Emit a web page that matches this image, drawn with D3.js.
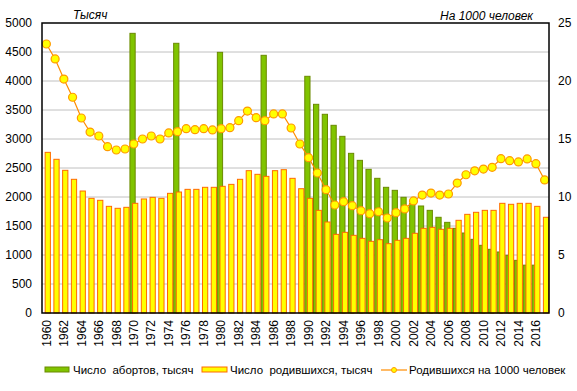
<!DOCTYPE html>
<html><head><meta charset="utf-8">
<script src="https://cdn.jsdelivr.net/npm/d3@7"></script>
<style>
body{margin:0;background:#fff;}
svg{display:block;font-family:Arial,"Liberation Sans",sans-serif;}
</style></head>
<body><svg id="c" width="577" height="391"></svg>
<script>
const years = d3.range(1960, 2018);
const births = [2770,2650,2460,2305,2103,1977,1943,1839,1805,1822,
  1891,1966,1994,1977,2063,2086,2132,2132,2167,2167,
  2184,2218,2305,2454,2391,2356,2454,2471,2322,2143,
  1977,1770,1569,1356,1391,1339,1287,1236,1264,1195,
  1253,1287,1374,1460,1477,1443,1460,1598,1701,1736,
  1770,1770,1891,1874,1891,1891,1839,1650];
const abortYears = [1970,1975,1980,1985,1990,1991,1992,1993,1994,1995,1996,1997,1998,1999,
  2000,2001,2002,2003,2004,2005,2006,2007,2008,2009,2010,2011,2012,2013,2014,2015,2016];
const abortions = [4822,4650,4494,4443,4081,3598,3426,3236,3046,2753,2632,2477,2322,2167,
  2115,1995,1891,1845,1770,1650,1563,1460,1379,1270,1167,1098,1052,995,908,825,825];
const rate = [23.19,21.9,20.17,18.6,16.81,15.6,15.26,14.34,14.05,14.14,
  14.57,15.0,15.26,15.0,15.52,15.63,15.89,15.8,15.89,15.78,
  15.89,15.98,16.58,17.41,16.84,16.58,17.16,17.16,15.95,14.57,
  13.39,12.07,10.63,9.31,9.6,9.25,8.82,8.56,8.73,8.19,
  8.65,8.97,9.66,10.17,10.34,10.17,10.26,11.2,11.92,12.26,
  12.41,12.56,13.3,13.13,13.02,13.28,12.87,11.47];
const leftTicks = d3.range(0, 5001, 500);
const rightTicks = [0,5,10,15,20,25];
const yearLabels = years.filter(y => (y - 1960) % 2 === 0);

const L = 42, R = 549, T = 23, B = 313;
const FONT = "Arial,'Liberation Sans',sans-serif";
const svg = d3.select("#c");
const x = d3.scaleBand().domain(years).range([L, R]).padding(0);
const bw = x.bandwidth();
const yL = d3.scaleLinear().domain([0, 5000]).range([B, T]);
const yR = d3.scaleLinear().domain([0, 25]).range([B, T]);

// gridlines
svg.append("g").selectAll("line").data(leftTicks.filter(v => v > 0 && v < 5000)).join("line")
  .attr("x1", L).attr("x2", R).attr("y1", d => yL(d)).attr("y2", d => yL(d))
  .attr("stroke", "#c0c0c0").attr("stroke-width", 1);

// abortion bars
const bwid = bw * 0.6;
svg.append("g").selectAll("rect").data(abortYears.map((y, i) => ({y, v: abortions[i]}))).join("rect")
  .attr("x", d => x(d.y) + bw * 0.06).attr("width", bwid)
  .attr("y", d => yL(d.v)).attr("height", d => B - yL(d.v))
  .attr("fill", "#80c400").attr("stroke", "#6b8a00").attr("stroke-width", 1);

// birth bars
svg.append("g").selectAll("rect").data(years.map((y, i) => ({y, v: births[i]}))).join("rect")
  .attr("x", d => x(d.y) + bw * 0.36).attr("width", bwid)
  .attr("y", d => yL(d.v)).attr("height", d => B - yL(d.v))
  .attr("fill", "#ffff00").attr("stroke", "#ff6a00").attr("stroke-width", 1);

// line
const pts = years.map((y, i) => ({y, v: rate[i]}));
svg.append("path").datum(pts)
  .attr("d", d3.line().x(d => x(d.y) + bw / 2).y(d => yR(d.v)))
  .attr("fill", "none").attr("stroke", "#ff8c00").attr("stroke-width", 1.2);
svg.append("g").selectAll("circle").data(pts).join("circle")
  .attr("cx", d => x(d.y) + bw / 2).attr("cy", d => yR(d.v)).attr("r", 4)
  .attr("fill", "#ffff00").attr("stroke", "#ff9900").attr("stroke-width", 1.2);

// frame
svg.append("rect").attr("x", L).attr("y", T).attr("width", R - L).attr("height", B - T)
  .attr("fill", "none").attr("stroke", "#000").attr("stroke-width", 1.5);

// left axis
const axL = svg.append("g").attr("transform", `translate(${L},0)`)
  .call(d3.axisLeft(yL).tickValues(leftTicks).tickFormat(d3.format("d")).tickSize(0).tickPadding(10));
axL.select(".domain").remove();
axL.selectAll("text").attr("font-size", 12).attr("fill", "#000").attr("font-family", FONT);

// right axis
const axR = svg.append("g").attr("transform", `translate(${R},0)`)
  .call(d3.axisRight(yR).tickValues(rightTicks).tickFormat(d3.format("d")).tickSize(0).tickPadding(9));
axR.select(".domain").remove();
axR.selectAll("text").attr("font-size", 12).attr("fill", "#000").attr("font-family", FONT);

// x axis
const axX = svg.append("g").attr("transform", `translate(0,${B})`)
  .call(d3.axisBottom(x).tickValues(yearLabels).tickSize(0).tickPadding(0));
axX.select(".domain").remove();
axX.selectAll("text").attr("font-size", 12).attr("fill", "#000")
  .attr("font-family", FONT)
  .attr("transform", "rotate(-90)").attr("text-anchor", "end")
  .attr("x", -7).attr("y", 0).attr("dy", "0.35em");

// titles
svg.append("text").attr("x", 73).attr("y", 19).attr("font-size", 12).attr("font-style", "italic").text("Тысяч");
svg.append("text").attr("x", 533).attr("y", 20).attr("font-size", 12).attr("font-style", "italic")
  .attr("text-anchor", "end").text("На 1000 человек");

// legend
const lg = svg.append("g").attr("font-size", 11.5);
lg.append("rect").attr("x", 45).attr("y", 367).attr("width", 24).attr("height", 5)
  .attr("fill", "#80c400").attr("stroke", "#6b8a00");
lg.append("text").attr("x", 73).attr("y", 374).attr("xml:space", "preserve").text("Число  абортов, тысяч");
lg.append("rect").attr("x", 202).attr("y", 367).attr("width", 25).attr("height", 5)
  .attr("fill", "#ffff00").attr("stroke", "#ff6a00");
lg.append("text").attr("x", 230).attr("y", 374).attr("xml:space", "preserve").text("Число  родившихся, тысяч");
lg.append("line").attr("x1", 381).attr("x2", 407).attr("y1", 370).attr("y2", 370)
  .attr("stroke", "#ff8c00").attr("stroke-width", 1.2);
lg.append("circle").attr("cx", 394).attr("cy", 370).attr("r", 2.5)
  .attr("fill", "#ffff00").attr("stroke", "#ff9900");
lg.append("text").attr("x", 409).attr("y", 374).attr("xml:space", "preserve").text("Родившихся на 1000 человек");
</script></body></html>
